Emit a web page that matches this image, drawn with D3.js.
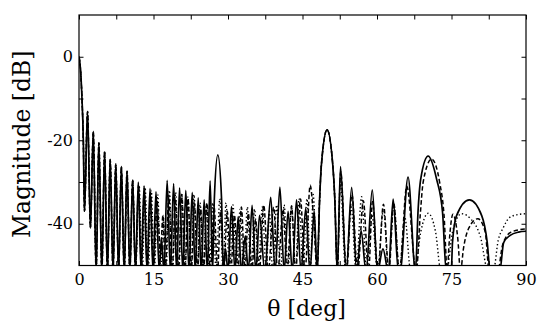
<!DOCTYPE html>
<html>
<head>
<meta charset="utf-8">
<script src="https://cdn.jsdelivr.net/npm/d3@7"></script>
<style>
  body { margin: 0; background: #fff; }
  svg { display: block; }
  .tick text { font-family: "DejaVu Serif", serif; font-size: 16px; fill: #000; }
  .domain { display: none; }
</style>
</head>
<body>
<svg id="chart" width="545" height="325"></svg>
<script>
// pattern as [theta deg, dB]; -51.5 = null below the axis floor
const nearBeam = [
  [0, 0], [0.3, -3], [0.6, -10], [0.87, -20], [1.1, -37],
  [1.72, -13.1], [2.3, -41],
  [2.88, -17.9], [3.45, -51.5],
  [4.0, -20.6], [4.6, -51.5],
  [5.15, -22.7], [5.72, -51.5],
  [6.28, -24.6], [6.85, -51.5],
  [7.4, -25.7], [7.97, -51.5],
  [8.53, -26.3], [9.1, -51.5],
  [9.67, -27.4], [10.24, -51.5],
  [10.8, -29.5], [11.37, -51.5]
];

const gratingLobe = [
  [47.95, -51.5], [48.45, -34], [48.8, -26], [49.95, -17.5], [51.1, -26], [51.5, -34], [52.0, -51.5]
];

const solidMid = [
  [11.94, -30.0], [12.5, -51.5], [13.1, -30.9], [13.7, -51.5], [14.3, -31.5], [14.9, -51.5],
  [15.5, -32.3], [16.15, -51.5], [16.6, -43.5], [17.1, -51.5], [17.75, -29.6], [18.4, -51.5],
  [19.05, -30.4], [19.65, -51.5], [20.25, -31.4], [20.9, -51.5], [21.5, -32.0], [22.15, -51.5],
  [22.8, -32.5], [23.4, -51.5], [24.0, -33.8], [24.6, -51.5], [25.2, -34.3], [25.85, -51.5],
  [26.4, -29.7], [26.9, -51.5], [27.25, -34], [27.95, -23.5], [28.7, -34], [29.05, -51.5],
  [29.5, -46], [30.0, -51.5], [30.7, -35.9], [31.4, -51.5], [32.05, -38.3], [32.7, -51.5],
  [33.45, -43], [34.1, -51.5], [34.85, -35.6], [35.6, -51.5], [36.35, -38], [37.4, -51.5],
  [38.6, -33.7], [39.5, -51.5], [40.45, -31.2], [41.3, -51.5], [42.1, -37], [42.95, -51.5],
  [43.8, -34.3], [44.7, -51.5], [45.65, -36.3], [46.5, -51.5], [47.35, -36.9]
];

const solidFar = [
  [52.65, -26.3], [53.8, -51.5], [54.9, -31.3], [55.9, -51.5], [56.8, -41.7], [57.8, -51.5],
  [59.05, -31.9], [60.1, -51.5], [61.2, -46], [62.3, -51.5], [63.25, -34.1], [64.3, -51.5],
  [64.65, -51.5], [66.25, -28.8], [67.75, -51.5],
  [68.25, -37.3], [68.8, -29.3], [70.3, -23.8], [72.0, -29.3], [73.2, -37.3], [73.95, -51.5],
  [74.95, -51.5], [75.2, -44.5], [76.0, -38.1], [78.6, -34.3], [81.1, -38.1], [82.2, -44.5], [82.8, -51.5],
  [84.7, -51.5], [85.5, -44.5], [86.8, -42.8], [88.5, -42], [90, -41.8]
];

const dashedMid = [
  [12.0, -30.5], [12.55, -51.5], [13.15, -31.5], [13.75, -51.5], [14.4, -32.5], [15.0, -51.5],
  [15.7, -34.5], [16.4, -47], [16.9, -38], [17.35, -51.5], [18.1, -33.5], [18.75, -51.5],
  [19.4, -34], [20.0, -51.5], [20.7, -33], [21.35, -51.5], [21.95, -34], [22.6, -51.5],
  [23.25, -35], [23.85, -51.5], [24.5, -36.5], [25.1, -51.5], [25.75, -35], [26.45, -51.5],
  [27.2, -36], [27.9, -51.5], [28.5, -37], [29.15, -51.5], [29.85, -37], [30.55, -51.5],
  [31.3, -38], [32.0, -51.5], [32.7, -36], [33.4, -51.5], [34.1, -37.5], [34.8, -51.5],
  [35.55, -39], [36.3, -51.5], [37.2, -35.5], [38.1, -51.5], [39.2, -36], [40.0, -51.5],
  [41.1, -36.5], [41.9, -51.5], [42.8, -35.7], [43.6, -51.5], [44.6, -34.1], [45.5, -51.5],
  [46.55, -30.8], [47.3, -40]
];

const dashedFar = [
  [52.7, -27.5], [53.85, -51.5], [54.95, -33], [56.1, -51.5], [57.25, -34.5], [58.3, -51.5],
  [59.1, -34.7], [60.2, -51.5], [61.3, -35.3], [62.4, -51.5], [63.35, -35], [64.5, -51.5],
  [66.0, -31], [67.9, -51.5], [68.7, -38], [69.3, -30], [71.0, -24.5], [72.6, -30], [73.5, -38], [74.15, -51.5],
  [74.5, -45], [75.3, -37.7], [76.3, -44], [76.8, -51.5], [77.4, -46], [78.5, -41], [80.3, -38.8],
  [81.8, -42], [82.6, -51.5], [84.3, -51.5], [85.3, -45], [87, -42], [90, -41.2]
];

const dottedMid = [
  [12.1, -30.8], [12.75, -51.5], [13.3, -31.3], [13.95, -51.5], [14.55, -32], [15.15, -51.5],
  [15.85, -33], [16.45, -51.5], [16.95, -38], [17.5, -51.5], [18.2, -32], [18.85, -51.5],
  [19.45, -32.5], [20.1, -51.5], [20.7, -33], [21.3, -51.5], [21.95, -33.5], [22.55, -51.5],
  [23.15, -33], [23.8, -51.5], [24.4, -35], [25.0, -51.5], [25.65, -35.5], [26.25, -51.5],
  [26.95, -35], [27.6, -51.5], [28.35, -34], [29.0, -51.5], [29.6, -35], [30.3, -51.5],
  [31.0, -35.5], [31.7, -51.5], [32.45, -36.5], [33.15, -51.5], [33.9, -36], [34.6, -51.5],
  [35.35, -36.5], [36.1, -51.5], [36.9, -36], [37.7, -51.5], [38.3, -37], [39.0, -51.5],
  [39.8, -35.5], [40.6, -51.5], [41.3, -35.5], [42.1, -51.5], [42.8, -36], [43.6, -51.5],
  [44.3, -34], [45.1, -51.5], [45.9, -34], [46.6, -51.5], [47.15, -33]
];

const dottedFar = [
  [52.6, -30], [53.7, -51.5], [54.8, -36], [55.8, -51.5], [56.9, -33.5], [57.9, -51.5],
  [59.0, -38], [60.1, -51.5], [61.3, -36.5], [62.3, -51.5], [63.4, -35.5], [64.5, -51.5],
  [65.6, -38.5], [66.8, -51.5], [67.6, -51.5], [68.8, -42], [70.3, -37.5], [71.8, -42], [72.9, -51.5],
  [74.0, -51.5], [75.2, -42], [77.0, -37.6], [79.0, -39], [80.8, -43], [82.4, -51.5],
  [83.4, -51.5], [84.4, -44], [85.4, -41], [86.8, -38.4], [88.4, -37.8], [90, -37.6]
];

const xTicks = [0, 15, 30, 45, 60, 75, 90];
const xMinor = [7.5, 22.5, 37.5, 52.5, 67.5, 82.5];
const yTicks = [0, -20, -40];
const yMinor = [-10, -30];

const svg = d3.select("#chart");
const mLeft = 79, mRight = 526, mTop = 15, mBottom = 265.5;

const x = d3.scaleLinear().domain([0, 90]).range([mLeft, mRight]);
const y = d3.scaleLinear().domain([-50, 10]).range([mBottom, mTop]);

svg.append("clipPath").attr("id", "plot")
  .append("rect")
  .attr("x", mLeft).attr("y", mTop)
  .attr("width", mRight - mLeft).attr("height", mBottom - mTop);

const line = d3.line()
  .x(d => x(d[0]))
  .y(d => y(d[1]))
  .curve(d3.curveMonotoneX);

const series = [
  { pts: nearBeam.concat(dottedMid, gratingLobe, dottedFar), dash: "1.4,2.4", w: 1.4 },
  { pts: nearBeam.concat(dashedMid, gratingLobe, dashedFar), dash: "4.5,2.5", w: 1.5 },
  { pts: nearBeam.concat(solidMid, gratingLobe, solidFar), dash: null, w: 1.7 }
];

const g = svg.append("g").attr("clip-path", "url(#plot)");
series.forEach(s => {
  g.append("path")
    .datum(s.pts)
    .attr("d", line)
    .attr("fill", "none")
    .attr("stroke", "#000")
    .attr("stroke-width", s.w)
    .attr("stroke-dasharray", s.dash);
});

// axes, ticks pointing inward
const fmtX = d => xTicks.includes(d) ? d : "";
svg.append("g").attr("transform", `translate(0,${mBottom})`)
  .call(d3.axisBottom(x).tickValues(xTicks.concat(xMinor)).tickSize(-4.5).tickPadding(8).tickFormat(fmtX));
svg.append("g").attr("transform", `translate(0,${mTop})`)
  .call(d3.axisTop(x).tickValues(xTicks.concat(xMinor)).tickSize(-4.5).tickFormat(""));
svg.append("g").attr("transform", `translate(${mLeft},0)`)
  .call(d3.axisLeft(y).tickValues(yTicks.concat(yMinor)).tickSize(-4.5).tickPadding(6)
    .tickFormat(d => yTicks.includes(d) ? d : ""));
svg.append("g").attr("transform", `translate(${mRight},0)`)
  .call(d3.axisRight(y).tickValues(yTicks.concat(yMinor)).tickSize(-4.5).tickFormat(""));

svg.selectAll(".tick line").attr("stroke", "#000").attr("stroke-width", 1);

svg.append("rect")
  .attr("x", mLeft).attr("y", mTop)
  .attr("width", mRight - mLeft).attr("height", mBottom - mTop)
  .attr("fill", "none").attr("stroke", "#000").attr("stroke-width", 1.2);

svg.append("text")
  .attr("x", (mLeft + mRight) / 2 + 4).attr("y", 316)
  .attr("text-anchor", "middle")
  .style("font-family", "DejaVu Serif, serif").style("font-size", "22px")
  .text("θ [deg]");

svg.append("text")
  .attr("transform", `translate(30,${(mTop + mBottom) / 2 + 4}) rotate(-90)`)
  .attr("text-anchor", "middle")
  .style("font-family", "DejaVu Serif, serif").style("font-size", "23.5px")
  .text("Magnitude [dB]");
</script>
</body>
</html>
